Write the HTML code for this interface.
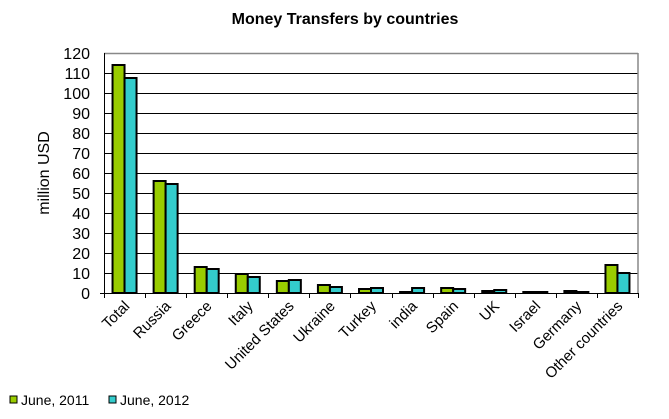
<!DOCTYPE html><html><head><style>body{margin:0;background:#fff}svg{font-family:"Liberation Sans",sans-serif}</style></head><body>
<svg width="669" height="414" xmlns="http://www.w3.org/2000/svg">
<text x="345" y="24" text-anchor="middle" font-size="16" font-weight="bold">Money Transfers by countries</text>
<g stroke="#000" stroke-width="1">
<line x1="104" x2="638" y1="73.5" y2="73.5"/><line x1="104" x2="638" y1="93.5" y2="93.5"/><line x1="104" x2="638" y1="113.5" y2="113.5"/><line x1="104" x2="638" y1="133.5" y2="133.5"/><line x1="104" x2="638" y1="153.5" y2="153.5"/><line x1="104" x2="638" y1="173.5" y2="173.5"/><line x1="104" x2="638" y1="193.5" y2="193.5"/><line x1="104" x2="638" y1="213.5" y2="213.5"/><line x1="104" x2="638" y1="233.5" y2="233.5"/><line x1="104" x2="638" y1="253.5" y2="253.5"/><line x1="104" x2="638" y1="273.5" y2="273.5"/>
</g>
<line x1="104" x2="638" y1="53.5" y2="53.5" stroke="#888" stroke-width="1.5"/>
<line x1="638" x2="638" y1="53" y2="294" stroke="#888" stroke-width="1.5"/>
<g id="bars" stroke="#000" stroke-width="2"></g>
<line x1="104.5" x2="104.5" y1="53" y2="297" stroke="#000"/>
<line x1="100" x2="638" y1="293.5" y2="293.5" stroke="#000"/>
<g id="ticks" stroke="#000"></g>
<g font-size="16" text-anchor="end" id="yl"></g>
<text transform="translate(49,173) rotate(-90)" text-anchor="middle" font-size="16">million  USD</text>
<g font-size="15" text-anchor="end" id="xl"></g>
<rect x="10" y="396" width="7" height="7" fill="#99cc00" stroke="#000"/>
<text x="21" y="405" font-size="14">June, 2011</text>
<rect x="109" y="396" width="7" height="7" fill="#33cccc" stroke="#000"/>
<text x="120" y="405" font-size="14">June, 2012</text>
<script>
var ns="http://www.w3.org/2000/svg";
function el(p,t,a,tx){var e=document.createElementNS(ns,t);for(var k in a)e.setAttribute(k,a[k]);if(tx)e.textContent=tx;document.getElementById(p).appendChild(e);}
var d=[["Total",114,107.5],["Russia",56,54.5],["Greece",13,12],["Italy",9.5,8],["United States",6,6.5],["Ukraine",4,3],["Turkey",2,2.5],["india",0.5,2.5],["Spain",2.5,2],["UK",1,1.5],["Israel",0.5,0.5],["Germany",1,0.5],["Other countries",14,10]];
var w=534/13;
for(var i=0;i<=13;i++){var x=Math.round(104+i*w)+0.5;el("ticks","line",{x1:x,x2:x,y1:293,y2:298});}
for(var v=0;v<=120;v+=10)el("yl","text",{x:90,y:299-v*2},String(v));
d.forEach(function(r,i){var c=104+i*w+w/2;
el("bars","rect",{x:c-12,y:293-r[1]*2,width:12,height:r[1]*2,fill:"#99cc00"});
el("bars","rect",{x:c,y:293-r[2]*2,width:12,height:r[2]*2,fill:"#33cccc"});
el("xl","text",{transform:"translate("+(c+6)+",307) rotate(-45)"},r[0]);});
</script>
</svg></body></html>
